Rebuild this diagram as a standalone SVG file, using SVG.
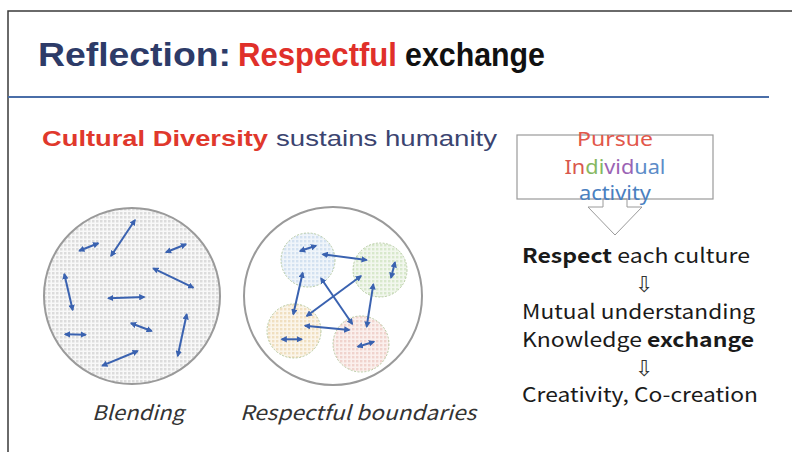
<svg xmlns="http://www.w3.org/2000/svg" width="792" height="452" viewBox="0 0 792 452">
<style>
.frame{stroke:#3a3a3a;stroke-width:1.5;fill:none}
.title{font-family:"Liberation Sans",Arial,sans-serif;font-weight:bold;font-size:33px}
.sub{font-family:"Liberation Sans",Arial,sans-serif;font-size:22px}
.jp{font-family:"Noto Sans CJK JP","Noto Sans",sans-serif;font-size:20px;fill:#1a1a1a}
.bx{font-family:"Noto Sans",sans-serif;font-size:19px}
.lbl{font-family:"Noto Sans CJK JP","Noto Sans",sans-serif;font-size:20px;font-style:italic;fill:#333}
.arr{font-family:"DejaVu Sans",sans-serif;font-size:22px;fill:#333}
.big{stroke:#9a9a9a;stroke-width:2;}
.sm{stroke:#a8c090;stroke-width:0.8;stroke-dasharray:2 1.5}
.ln{stroke:#3a62b0;stroke-width:2;fill:none;marker-start:url(#ah);marker-end:url(#ah)}
</style>
<defs>
<marker id="ah" viewBox="0 0 10 10" refX="8" refY="5" markerWidth="3.2" markerHeight="3.2" orient="auto-start-reverse" markerUnits="strokeWidth">
<path d="M0,0 L10,5 L0,10 z" fill="#3a62b0"/>
</marker>
<pattern id="pg" width="4" height="4" patternUnits="userSpaceOnUse">
<rect width="4" height="4" fill="#f8f8f8"/><rect width="2.5" height="2.5" fill="#dcdcdc"/>
</pattern>
<pattern id="pb" width="4" height="4" patternUnits="userSpaceOnUse">
<rect width="4" height="4" fill="#f0f5fa"/><rect width="2.4" height="2.4" fill="#d3e1f0"/>
</pattern>
<pattern id="pgr" width="4" height="4" patternUnits="userSpaceOnUse">
<rect width="4" height="4" fill="#f2f7ee"/><rect width="2.4" height="2.4" fill="#d8e8cc"/>
</pattern>
<pattern id="po" width="4" height="4" patternUnits="userSpaceOnUse">
<rect width="4" height="4" fill="#fbf5ea"/><rect width="2.4" height="2.4" fill="#f0dfc0"/>
</pattern>
<pattern id="pp" width="4" height="4" patternUnits="userSpaceOnUse">
<rect width="4" height="4" fill="#fbf0ed"/><rect width="2.4" height="2.4" fill="#f0d3cd"/>
</pattern>
</defs>
<rect width="792" height="452" fill="#ffffff"/>
<path class="frame" d="M8,452 L8,11 L792,11"/>

<g id="title">
<text class="title" x="38" y="66" fill="#2d3b68" textLength="193" lengthAdjust="spacingAndGlyphs">Reflection:</text>
<text class="title" x="238" y="66" fill="#e0302a" textLength="159" lengthAdjust="spacingAndGlyphs">Respectful</text>
<text class="title" x="405" y="66" fill="#111111" textLength="140" lengthAdjust="spacingAndGlyphs">exchange</text>
</g>
<line x1="8" y1="97" x2="769" y2="97" stroke="#4a6ea8" stroke-width="2.2"/>

<g id="subtitle">
<text class="sub" x="42" y="146" fill="#e0382c" font-weight="bold" textLength="226" lengthAdjust="spacingAndGlyphs">Cultural Diversity</text>
<text class="sub" x="276" y="146" fill="#3b4470" textLength="221" lengthAdjust="spacingAndGlyphs">sustains humanity</text>
</g>

<g id="pursue-box">
<polygon points="603,199 603,207 588,207 615,235 642,207 627,207 627,199" fill="#ffffff" stroke="#9a9a9a" stroke-width="1"/>
<rect x="517" y="135" width="196" height="64" fill="none" stroke="#9a9a9a" stroke-width="1.2"/>
<text class="bx" x="615" y="146" text-anchor="middle" fill="#e2574a" textLength="76" lengthAdjust="spacingAndGlyphs">Pursue</text>
<text class="bx" x="615" y="174" text-anchor="middle" textLength="101" lengthAdjust="spacingAndGlyphs"><tspan fill="#d9584c">In</tspan><tspan fill="#86b860">di</tspan><tspan fill="#9b64b4">vid</tspan><tspan fill="#5c8cc8">ual</tspan></text>
<text class="bx" x="615" y="200" text-anchor="middle" fill="#4a80c0" textLength="72" lengthAdjust="spacingAndGlyphs">activity</text>
</g>

<g id="steps">
<text class="jp" x="522" y="263" textLength="228" lengthAdjust="spacingAndGlyphs"><tspan font-weight="bold">Respect</tspan> each culture</text>
<text class="arr" x="644" y="292" text-anchor="middle">⇩</text>
<text class="jp" x="522" y="319" textLength="233" lengthAdjust="spacingAndGlyphs">Mutual understanding</text>
<text class="jp" x="522" y="347" textLength="232" lengthAdjust="spacingAndGlyphs">Knowledge <tspan font-weight="bold">exchange</tspan></text>
<text class="arr" x="644" y="376" text-anchor="middle">⇩</text>
<text class="jp" x="522" y="402" textLength="236" lengthAdjust="spacingAndGlyphs">Creativity, Co-creation</text>
</g>

<g id="blending">
<circle class="big" cx="132" cy="296" r="88" fill="url(#pg)"/>
<text class="lbl" x="92" y="420" textLength="92" lengthAdjust="spacingAndGlyphs">Blending</text>
</g>

<g id="boundaries">
<circle class="big" cx="333" cy="296" r="89" fill="#ffffff"/>
<circle class="sm" cx="308" cy="260" r="27" fill="url(#pb)"/>
<circle class="sm" cx="380" cy="270" r="27" fill="url(#pgr)"/>
<circle class="sm" cx="294" cy="331" r="27" fill="url(#po)"/>
<circle class="sm" cx="361" cy="344" r="28" fill="url(#pp)"/>
<text class="lbl" x="240" y="420" textLength="236" lengthAdjust="spacingAndGlyphs">Respectful boundaries</text>
</g>

<g id="connectors">
<line class="ln" x1="79.3" y1="250.7" x2="98.3" y2="243.3"/>
<line class="ln" x1="111" y1="256" x2="135" y2="220"/>
<line class="ln" x1="166" y1="252.3" x2="186" y2="244.3"/>
<line class="ln" x1="153.3" y1="268.3" x2="193.3" y2="287.7"/>
<line class="ln" x1="64.3" y1="274" x2="72.7" y2="310"/>
<line class="ln" x1="108.3" y1="298.3" x2="144.3" y2="297"/>
<line class="ln" x1="186.7" y1="314.3" x2="177.7" y2="356"/>
<line class="ln" x1="131" y1="323.3" x2="151.7" y2="331"/>
<line class="ln" x1="65" y1="334.3" x2="85.7" y2="334.7"/>
<line class="ln" x1="102.3" y1="365.7" x2="137.7" y2="351"/>

<line class="ln" x1="300" y1="251" x2="316" y2="245.7"/>
<line class="ln" x1="322.7" y1="254.3" x2="366.7" y2="260"/>
<line class="ln" x1="395" y1="262.3" x2="391" y2="277.7"/>
<line class="ln" x1="302.7" y1="272.7" x2="293.3" y2="314.3"/>
<line class="ln" x1="321" y1="278.3" x2="352.3" y2="324"/>
<line class="ln" x1="361" y1="276" x2="306.7" y2="316"/>
<line class="ln" x1="373.3" y1="284.3" x2="366.7" y2="326.7"/>
<line class="ln" x1="305" y1="325.7" x2="349.3" y2="330"/>
<line class="ln" x1="281.7" y1="339.3" x2="301.7" y2="339.3"/>
<line class="ln" x1="357.7" y1="346.7" x2="374" y2="341.7"/>
</g>
</svg>
